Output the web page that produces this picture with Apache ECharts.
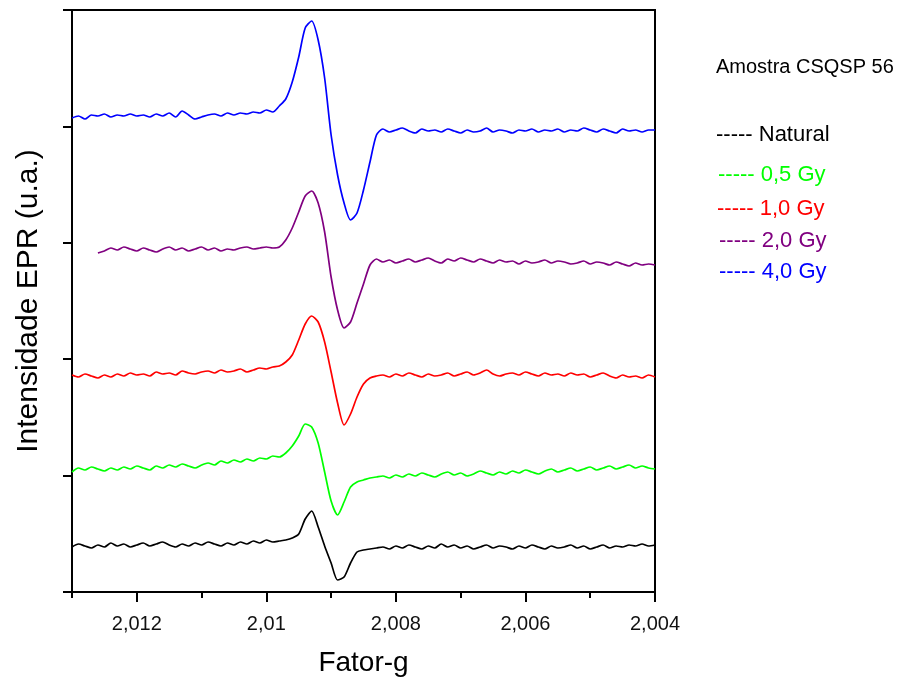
<!DOCTYPE html>
<html>
<head>
<meta charset="utf-8">
<script src="https://cdn.jsdelivr.net/npm/echarts@6/dist/echarts.min.js"></script>
<style>
html,body{margin:0;padding:0;background:#fff;}
#chart{width:902px;height:683px;}
</style>
</head>
<body>
<div id="chart"></div>
<script>
// g-factor sampling grid (left = 2.0130 -> right = 2.0040)
const fatorG = [2.0130,2.0129,2.0128,2.0127,2.0126,2.0125,2.0124,2.0123,2.0122,2.0121,
2.0120,2.0119,2.0118,2.0117,2.0116,2.0115,2.0114,2.0113,2.0112,2.0111,
2.0110,2.0109,2.0108,2.0107,2.0106,2.0105,2.0104,2.0103,2.0102,2.0101,
2.0100,2.0099,2.0098,2.0097,2.0096,2.0095,2.0094,2.0093,2.0092,2.0091,
2.0090,2.0089,2.0088,2.0087,2.0086,2.0085,2.0084,2.0083,2.0082,2.0081,
2.0080,2.0079,2.0078,2.0077,2.0076,2.0075,2.0074,2.0073,2.0072,2.0071,
2.0070,2.0069,2.0068,2.0067,2.0066,2.0065,2.0064,2.0063,2.0062,2.0061,
2.0060,2.0059,2.0058,2.0057,2.0056,2.0055,2.0054,2.0053,2.0052,2.0051,
2.0050,2.0049,2.0048,2.0047,2.0046,2.0045,2.0044,2.0043,2.0042,2.0041,
2.0040];

// EPR intensity (arbitrary units, stacked with offsets as in the figure)
const natural = [45,48,46,44,47,45,49,46,48,45,47,49,46,48,50,47,45,48,46,49,47,50,48,46,49,47,50,48,51,49,52,50,
51,52,54,58,73,81,65,46,29,12,15,29,40,42,43,44,
45,43,46,44,47,45,43,46,44,48,45,47,44,46,43,45,47,44,46,45,43,46,44,47,45,43,46,44,45,47,44,46,43,45,47,44,46,45,47,46,48,46,47];

const gy05 = [120,124,122,125,123,121,124,122,125,123,126,124,122,126,124,127,125,128,126,124,127,129,127,131,129,132,130,133,131,134,133,136,
135,139,146,156,168,165,149,120,91,77,90,105,110,112,114,115,
116,114,117,115,118,116,119,117,115,118,120,117,119,116,118,121,119,117,120,118,121,119,122,120,118,121,123,120,122,124,121,123,125,122,124,126,123,125,127,124,126,124,123];

const gy10 = [217,215,218,216,214,217,215,218,216,219,217,218,216,220,218,219,217,221,219,218,220,221,219,222,220,221,223,220,222,224,223,225,
226,230,237,252,268,276,270,250,220,189,167,178,195,208,214,
216,217,215,218,216,219,217,215,218,216,217,219,216,218,220,217,219,222,218,216,218,219,217,220,218,216,219,217,218,216,219,217,218,215,217,219,216,214,217,215,216,214,217,215];

const gy20 = [null,null,null,null,
339,341,344,342,345,343,341,344,342,340,343,345,342,344,341,343,345,342,344,341,343,342,344,345,343,344,345,344,
345,352,364,380,396,401,389,360,315,282,264,270,289,308,327,
333,330,332,329,331,333,330,332,334,331,329,333,331,334,332,330,333,331,329,332,330,331,328,331,329,330,332,329,331,330,328,329,331,328,330,329,327,330,328,326,329,327,328,327];

const gy40 = [474,476,473,477,476,478,475,477,476,478,476,477,475,478,476,479,475,481,477,473,475,477,478,476,479,477,479,478,480,479,482,480,
486,493,510,535,564,571,552,514,457,417,389,372,379,402,430,457,
463,460,462,464,461,459,463,461,462,460,463,461,459,462,460,461,464,460,462,461,459,462,461,463,460,462,461,463,460,462,461,464,462,460,463,461,459,463,461,462,460,462,462];

const seriesNames = ['Natural','0,5 Gy','1,0 Gy','2,0 Gy','4,0 Gy'];
const seriesColors = ['#000000','#00ff00','#ff0000','#800080','#0000ff'];
const seriesValues = [natural, gy05, gy10, gy20, gy40];

const xMajorTicks = [2.004,2.006,2.008,2.010,2.012];
const xMajorLabels = ['2,004','2,006','2,008','2,01','2,012'];
const xMinorTicks = [2.005,2.007,2.009,2.011,2.013];
const yTicks = [0,116.4,232.8,349.2,465.6,582];

const chart = echarts.init(document.getElementById('chart'), null, {renderer:'canvas'});
const FONT = 'Liberation Sans, Arial, sans-serif';

const series = seriesValues.map((vals, k) => ({
  name: seriesNames[k],
  type: 'line',
  xAxisIndex: 0,
  data: fatorG.map((g, i) => [g, vals[i]]).filter(p => p[1] !== null),
  showSymbol: false,
  smooth: 0.25,
  lineStyle: {color: seriesColors[k], width: 1.7},
  itemStyle: {color: seriesColors[k]},
  animation: false,
  z: 3
}));

const legendY = [136, 176, 210, 242, 273];
const legendX = [716, 718, 717, 719, 719];
const graphics = [{
  type: 'text', left: 716, top: 57,
  style: {text: 'Amostra CSQSP 56', fill: '#000', font: '20px ' + FONT}
}];
seriesNames.forEach((n, k) => {
  graphics.push({
    type: 'text', left: legendX[k], top: legendY[k] - 12,
    style: {text: '----- ' + n, fill: seriesColors[k], font: '22px ' + FONT}
  });
});

const option = {
  backgroundColor: '#fff',
  animation: false,
  grid: {left: 72, right: 247, top: 10, bottom: 91, show: true, borderColor: '#000', borderWidth: 2, containLabel: false},
  xAxis: [{
    type: 'value', inverse: true, min: 2.004, max: 2.013,
    name: 'Fator-g', nameLocation: 'middle', nameGap: 57,
    nameTextStyle: {fontFamily: FONT, fontSize: 28, color: '#000'},
    axisLine: {show: true, onZero: false, lineStyle: {color: '#000', width: 2}},
    axisTick: {show: true, customValues: xMajorTicks, length: 10, lineStyle: {color: '#000', width: 2}},
    axisLabel: {show: true, customValues: xMajorTicks, margin: 22, fontFamily: FONT, fontSize: 20, color: '#111',
      formatter: v => { const i = xMajorTicks.findIndex(t => Math.abs(t - v) < 1e-7); return i >= 0 ? xMajorLabels[i] : ''; }},
    splitLine: {show: false}
  }, {
    type: 'value', inverse: true, min: 2.004, max: 2.013, position: 'bottom',
    axisLine: {show: false},
    axisTick: {show: true, customValues: xMinorTicks, length: 6, lineStyle: {color: '#000', width: 2}},
    axisLabel: {show: false},
    splitLine: {show: false}
  }],
  yAxis: {
    type: 'value', min: 0, max: 582,
    name: 'Intensidade EPR (u.a.)', nameLocation: 'middle', nameGap: 28,
    nameTextStyle: {fontFamily: FONT, fontSize: 30, color: '#000'},
    axisLine: {show: true, onZero: false, lineStyle: {color: '#000', width: 2}},
    axisTick: {show: true, customValues: yTicks, length: 9, lineStyle: {color: '#000', width: 2}},
    axisLabel: {show: false},
    splitLine: {show: false}
  },
  graphic: graphics,
  series: series
};
chart.setOption(option);
</script>
</body>
</html>
